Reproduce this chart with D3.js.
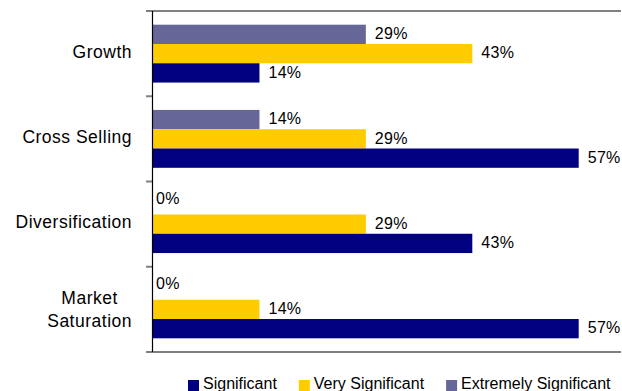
<!DOCTYPE html>
<html>
<head>
<meta charset="utf-8">
<script src="https://cdn.jsdelivr.net/npm/d3@7/dist/d3.min.js"></script>
<style>
  html, body { margin: 0; padding: 0; background: #fff; }
  svg { display: block; font-family: "Liberation Sans", Arial, sans-serif; }
</style>
</head>
<body>
<svg id="chart" width="622" height="391"></svg>
<script>
// Drivers and the share of respondents rating each one
const categories = ["Growth", "Cross Selling", "Diversification", "Market Saturation"];
const seriesNames = ["Extremely Significant", "Very Significant", "Significant"];
const extremelySignificant = [0.2857, 0.1429, 0, 0];
const verySignificant      = [0.4286, 0.2857, 0.2857, 0.1429];
const significant          = [0.1429, 0.5714, 0.4286, 0.5714];
const legendOrder = ["Significant", "Very Significant", "Extremely Significant"];

const colors = {
  "Significant": "#000080",
  "Very Significant": "#FFCC00",
  "Extremely Significant": "#666699"
};
const valuesBySeries = {
  "Extremely Significant": extremelySignificant,
  "Very Significant": verySignificant,
  "Significant": significant
};

const svg = d3.select("#chart");
const W = 622, H = 391;
const plot = { left: 153, top: 11, bottom: 352 };

const x = d3.scaleLinear().domain([0, 0.7]).range([plot.left, plot.left + 521.5]);
const y = d3.scaleBand().domain(categories).range([plot.top, plot.bottom]).paddingInner(0).paddingOuter(0);
const ySub = d3.scaleBand().domain(seriesNames).range([0, y.bandwidth()]).paddingInner(0).paddingOuter(0.71);

const pct = d3.format(".0%");

// frame lines: top and bottom rules in gray
svg.append("line")
  .attr("x1", 146).attr("x2", W - 1)
  .attr("y1", plot.top).attr("y2", plot.top)
  .attr("stroke", "#808080").attr("stroke-width", 2);
svg.append("line")
  .attr("x1", 146).attr("x2", W - 1)
  .attr("y1", plot.bottom).attr("y2", plot.bottom)
  .attr("stroke", "#808080").attr("stroke-width", 2);

// category tick marks between bands
const boundaries = categories.map(c => y(c)).concat([plot.bottom]);
svg.append("g").selectAll("line").data(boundaries).join("line")
  .attr("x1", 146).attr("x2", 152)
  .attr("y1", d => d).attr("y2", d => d)
  .attr("stroke", "#808080").attr("stroke-width", 2);

// bars
const rows = [];
categories.forEach((c, i) => {
  seriesNames.forEach(s => rows.push({ cat: c, series: s, value: valuesBySeries[s][i] }));
});

svg.append("g").selectAll("rect").data(rows.filter(d => d.value > 0)).join("rect")
  .attr("x", x(0))
  .attr("y", d => y(d.cat) + ySub(d.series))
  .attr("width", d => x(d.value) - x(0))
  .attr("height", ySub.bandwidth())
  .attr("fill", d => colors[d.series]);

// value labels
svg.append("g").selectAll("text").data(rows).join("text")
  .attr("x", d => x(d.value) + (d.value > 0 ? 9 : 3))
  .attr("y", d => y(d.cat) + ySub(d.series) + ySub.bandwidth() / 2 + (d.value > 0 ? -1 : -7))
  .attr("dy", "0.36em")
  .attr("font-size", 16)
  .attr("letter-spacing", 0.3)
  .attr("fill", "#000")
  .text(d => pct(d.value));

// vertical axis line
svg.append("line")
  .attr("x1", 152.5).attr("x2", 152.5)
  .attr("y1", plot.top).attr("y2", plot.bottom)
  .attr("stroke", "#000").attr("stroke-width", 1.2);

// category labels; long names wrap onto two lines
const catLabel = svg.append("g").attr("font-size", 17.5).attr("letter-spacing", 0.5).attr("fill", "#000");
categories.forEach(c => {
  const cy = y(c) + y.bandwidth() / 2;
  const words = c.split(" ");
  if (c === "Market Saturation") {
    const t = catLabel.append("text").attr("text-anchor", "middle");
    const probe = catLabel.append("text").text(words[1]);
    const wWidth = probe.node().getComputedTextLength();
    probe.remove();
    const cx = 132 - wWidth / 2;
    t.append("tspan").attr("x", cx).attr("y", cy - 11.5).attr("dy", "0.36em").text(words[0]);
    t.append("tspan").attr("x", cx).attr("y", cy + 11.5).attr("dy", "0.36em").text(words[1]);
  } else {
    catLabel.append("text")
      .attr("x", 132).attr("y", cy - 2).attr("dy", "0.36em")
      .attr("text-anchor", "end")
      .text(c);
  }
});

// legend along the bottom
const legend = svg.append("g").attr("font-size", 16);
let lx = 188;
legendOrder.forEach(s => {
  legend.append("rect").attr("x", lx).attr("y", 380).attr("width", 11).attr("height", 11)
    .attr("fill", colors[s]);
  const t = legend.append("text").attr("x", lx + 15).attr("y", 388.5).attr("fill", "#000").text(s);
  lx += 15 + t.node().getComputedTextLength() + 22;
});
</script>
</body>
</html>
